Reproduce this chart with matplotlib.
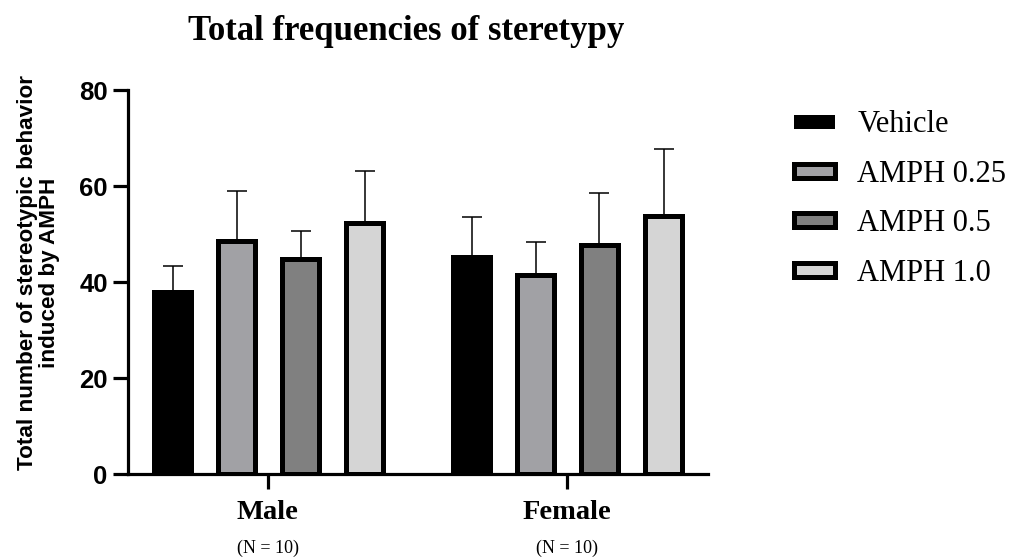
import numpy as np
import matplotlib
matplotlib.use("Agg")
import matplotlib.pyplot as plt
import matplotlib.transforms as mtransforms

groups = ["Male", "Female"]
group_n = ["(N = 10)", "(N = 10)"]
treatments = ["Vehicle", "AMPH 0.25", "AMPH 0.5", "AMPH 1.0"]
# mean per treatment, [Male, Female]
means = {
    "Vehicle":   [38.0, 45.2],
    "AMPH 0.25": [48.6, 41.4],
    "AMPH 0.5":  [44.8, 47.8],
    "AMPH 1.0":  [52.2, 53.8],
}
# upper error (SEM) per treatment, [Male, Female]
errs = {
    "Vehicle":   [5.3, 8.4],
    "AMPH 0.25": [10.4, 7.0],
    "AMPH 0.5":  [5.8, 10.7],
    "AMPH 1.0":  [10.9, 14.0],
}
colors = ["#000000", "#a1a1a5", "#808080", "#d5d5d5"]
yticks = [0, 20, 40, 60, 80]

serif = "Liberation Serif"
sans = "Liberation Sans"

fig = plt.figure(figsize=(10.15, 5.59), dpi=100)
ax = fig.add_axes([128/1015, 1-474/559, 580/1015, 384/559])

x = np.arange(len(groups))
offsets = np.array([-0.318, -0.104, 0.109, 0.324])
width = 0.124
handles = []
for i, t in enumerate(treatments):
    xi = x + offsets[i]
    m = np.array(means[t])
    e = np.array(errs[t])
    ax.errorbar(xi, m, yerr=[np.zeros_like(e), e], fmt="none", ecolor="black",
                elinewidth=1.1, capsize=7.5, capthick=1.1, zorder=1)
    b = ax.bar(xi, m, width, color=colors[i], edgecolor="black", linewidth=3.6,
               zorder=2, label=t)
    handles.append(b)

ax.set_xlim(-0.468, 1.472)
ax.set_ylim(0, 80)
ax.set_yticks(yticks)
ax.set_yticklabels([str(v) for v in yticks], fontfamily=sans, fontweight="bold",
                   fontsize=18.5)
ax.set_xticks(x)
ax.set_xticklabels([])
for s in ["top", "right"]:
    ax.spines[s].set_visible(False)
for s in ["left", "bottom"]:
    ax.spines[s].set_linewidth(2.3)
ax.tick_params(axis="both", length=11, width=2.3, pad=3.6)

trans = mtransforms.blended_transform_factory(ax.transData, ax.transAxes)
for xi, g, n in zip(x, groups, group_n):
    ax.text(xi, -0.1, g, transform=trans, ha="center", va="center",
            fontfamily=serif, fontweight="bold", fontsize=20.5)
    ax.text(xi, -0.193, n, transform=trans, ha="center", va="center",
            fontfamily=serif, fontsize=13)

ax.set_ylabel("Total number of stereotypic behavior\ninduced by AMPH",
              fontfamily=sans, fontweight="bold", fontsize=16.2, linespacing=1.05)
ax.yaxis.set_label_coords(-0.117, 0.524)

fig.text(406/1015, 1-32/559, "Total frequencies of steretypy", ha="center",
         va="center", fontfamily=serif, fontweight="bold", fontsize=25)

leg = fig.legend(handles=handles, labels=treatments, loc="upper left",
                 bbox_to_anchor=(766/1015, 1-83/559), frameon=False,
                 prop={"family": serif, "size": 22}, handlelength=1.37,
                 handleheight=0.33, handletextpad=0.72, labelspacing=0.67)
for i, h in enumerate(leg.legend_handles):
    h.set_linewidth(0 if i == 0 else 3.6)

fig.savefig("out.png", dpi=100)
